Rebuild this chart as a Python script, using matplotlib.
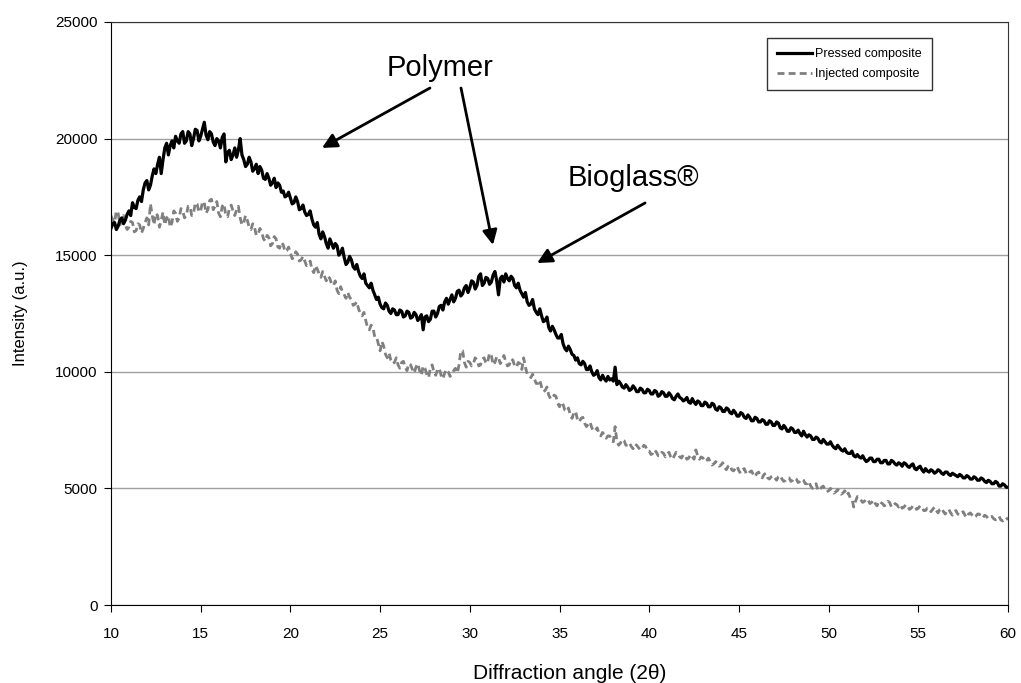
import numpy as np
import matplotlib
matplotlib.use('Agg')
import matplotlib.pyplot as plt

plt.rcParams['font.family'] = ['Liberation Sans', 'DejaVu Sans']

# 2-theta scan, 10-60 deg, 0.1 deg step
angle = np.round(np.arange(10.0, 60.0001, 0.1), 1)

pressed = [
    16150, 16350, 16400, 16100, 16250, 16500, 16600, 16350, 16500, 16750,
    16900, 16700, 17250, 17050, 17000, 17350, 17500, 17300, 17800, 18100,
    18200, 17800, 18000, 18400, 18700, 18500, 18900, 19200, 18500, 19100,
    19600, 19800, 19300, 19700, 19900, 19600, 20100, 19900, 19800, 20200,
    20300, 19800, 19900, 20300, 20200, 19700, 20000, 20400, 20350, 19900,
    20100, 20400, 20700, 20150, 19950, 20300, 20200, 19850, 19700, 20000,
    19900, 19600, 20050, 20200, 19000, 19400, 19500, 19100, 19300, 19600,
    19200, 19500, 20000, 19300, 19100, 18800, 18900, 19200, 19000, 18600,
    18700, 18900, 18500, 18800, 18650, 18300, 18250, 18500, 18300, 18000,
    18100, 18300, 17900, 18100, 18000, 17700, 17750, 17500, 17550, 17700,
    17450, 17200, 17250, 17500, 17300, 16950, 17000, 17150, 16850, 16700,
    16750, 16900, 16550, 16300, 16200, 16400, 15900, 15700, 16000, 15800,
    15500, 15300, 15700, 15500, 15300, 15500, 15400, 15000, 15100, 15300,
    14900, 14600, 14700, 14950, 14800, 14500, 14400, 14600, 14300, 14100,
    14000, 14200, 13800, 13700, 13600, 13800, 13500, 13300, 13100, 13200,
    12900, 12750, 12700, 12950, 12850, 12600, 12500, 12700, 12650, 12450,
    12450, 12650, 12600, 12350, 12400, 12600, 12550, 12300, 12350, 12550,
    12450, 12200, 12300, 12450, 11800, 12350, 12400, 12150, 12250, 12600,
    12600, 12350, 12500, 12800, 12850, 12650, 13000, 13150, 12900, 13100,
    13300, 13000, 13150, 13450, 13500, 13250, 13350, 13600, 13700, 13400,
    13600, 13900, 13850, 13550, 13700, 14100, 14200, 13700, 13800, 14050,
    14000, 13750, 13850, 14150, 14300, 13900, 13300, 14000, 14100, 13850,
    14200, 14000, 13900, 14100, 14000, 13700, 13600, 13800, 13500, 13350,
    13200, 13400, 13000, 12850, 12900, 13100, 12700, 12550, 12450, 12700,
    12400, 12150, 12200, 12350, 11900, 11750, 11950, 11800, 11600, 11450,
    11450, 11600, 11200, 11000, 10900, 11100, 10950, 10750, 10700, 10500,
    10600, 10350, 10300, 10450, 10350, 10100, 10100, 10250, 10000, 9850,
    9900, 10050, 9750, 9650, 9850, 9700, 9600, 9800, 9650, 9700,
    9600, 10200, 9450, 9600, 9500, 9350, 9300, 9450, 9350, 9200,
    9250, 9400, 9300, 9150, 9150, 9300, 9250, 9100, 9100, 9250,
    9200, 9050, 9050, 9200, 9150, 8950, 9000, 9150, 9100, 8950,
    8950, 9100, 9000, 8850, 8800, 8950, 9050, 8900, 8850, 8750,
    8800, 8900, 8700, 8650, 8850, 8700, 8600, 8750, 8700, 8550,
    8550, 8700, 8650, 8500, 8500, 8650, 8600, 8400, 8350, 8500,
    8450, 8300, 8300, 8450, 8400, 8250, 8200, 8350, 8250, 8100,
    8100, 8250, 8200, 8050, 8000, 8150, 8050, 7900, 7900, 8050,
    8000, 7850, 7850, 7950, 7900, 7750, 7750, 7900, 7850, 7700,
    7700, 7850, 7800, 7600, 7550, 7700, 7600, 7450, 7450, 7600,
    7550, 7400, 7400, 7500, 7350, 7250, 7450, 7300, 7200, 7300,
    7250, 7100, 7100, 7200, 7150, 7000, 6950, 7100, 7000, 6900,
    6900, 7000, 6850, 6750, 6700, 6850, 6750, 6650, 6600, 6700,
    6550, 6500, 6500, 6600, 6400, 6350, 6450, 6350, 6300, 6400,
    6250, 6150, 6200, 6300, 6300, 6150, 6150, 6250, 6250, 6100,
    6100, 6200, 6200, 6050, 6050, 6200, 6150, 6050, 6000, 6100,
    6050, 5950, 6100, 6050, 5950, 5900, 6000, 6050, 5850, 5800,
    5900, 5950, 5800, 5700, 5850, 5750, 5700, 5800, 5750, 5650,
    5700, 5800, 5750, 5650, 5600, 5700, 5700, 5600, 5550, 5650,
    5600, 5550, 5500, 5600, 5550, 5450, 5450, 5550, 5500, 5400,
    5400, 5500, 5450, 5350, 5350, 5450, 5400, 5300, 5250, 5350,
    5300, 5200, 5200, 5300, 5250, 5100, 5100, 5200, 5150, 5050,
    5050,
]

injected = [
    16700, 16500, 16400, 16900, 16800, 16300, 16500, 16700, 16300, 16100,
    16200, 16450, 16400, 16000, 16050, 16350, 16300, 15950, 16150, 16400,
    16600, 16300, 17200, 16700, 16300, 16800, 16700, 16200, 16500, 16850,
    16300, 16600, 16700, 16200, 16400, 16900, 16800, 16450, 16600, 17000,
    16900, 16600, 16700, 17100, 17100, 16700, 16800, 17250, 17200, 16850,
    16900, 17300, 17250, 16800, 16950, 17350, 17400, 16950, 17100, 17300,
    16800, 16650, 17100, 17200, 16700, 16650, 17000, 17150, 16900, 16700,
    16950, 17100, 16600, 16300, 16400, 16700, 16500, 16200, 16100, 16350,
    16200, 15850, 15900, 16150, 16000, 15700, 15600, 15850, 15750, 15400,
    15500, 15800, 15700, 15350, 15300, 15550, 15450, 15150, 15200, 15350,
    15100, 14850, 14900, 15150, 15050, 14750, 14800, 14950, 14750, 14550,
    14600, 14750, 14400, 14250, 14550, 14400, 14200, 14050, 14300, 14100,
    13900, 14100, 14000, 13750, 13700, 13900, 13500, 13350, 13650, 13450,
    13300, 13150, 13400, 13200, 13100, 12850, 12900, 13000, 12700, 12500,
    12400, 12550, 12200, 11900, 11800, 12000, 11900, 11500, 11500, 11200,
    10900, 11300, 11100, 10750, 10600, 10800, 10500, 10350, 10400, 10600,
    10300, 10150, 10400, 10450, 10200, 10050, 10350, 10300, 10100, 9950,
    10200, 10350, 10050, 9850, 10250, 10150, 9900, 9750, 10150, 10300,
    10000, 9850, 10100, 10150, 9850, 9700, 9950, 10100, 10000, 9800,
    9900, 10050, 10150, 9950, 10300, 10900, 10900, 10400, 10200, 10450,
    10400, 10250, 10350, 10600, 10500, 10250, 10300, 10550, 10600, 10350,
    10450, 10800, 10700, 10300, 10400, 10650, 10600, 10350, 10500, 10700,
    10450, 10250, 10300, 10550, 10500, 10250, 10200, 10400, 10350, 10100,
    10600, 10200, 9900, 9850, 9750, 9900, 9700, 9500, 9500, 9650,
    9350, 9150, 9200, 9350, 9000, 8850, 8850, 9000, 8950, 8650,
    8500, 8700, 8600, 8350, 8300, 8450, 8150, 8000, 8250, 8300,
    7950, 7850, 8000, 8050, 7800, 7650, 7750, 7850, 7600, 7450,
    7500, 7600, 7350, 7250, 7400, 7300, 7150, 7250, 7250, 7050,
    7000, 7650, 7000, 6850, 6950, 7100, 7050, 6850, 6850, 6950,
    6800, 6700, 6900, 6850, 6750, 6650, 6700, 6850, 6800, 6600,
    6600, 6450, 6500, 6650, 6550, 6400, 6400, 6550, 6500, 6350,
    6450, 6550, 6350, 6250, 6400, 6550, 6500, 6350, 6300, 6450,
    6400, 6250, 6300, 6450, 6350, 6250, 6650, 6400, 6250, 6350,
    6300, 6150, 6200, 6300, 6150, 6000, 6050, 6150, 6100, 5950,
    6000, 6100, 5900, 5800, 5950, 6000, 5800, 5750, 5850, 5950,
    5750, 5650, 5800, 5850, 5650, 5600, 5700, 5750, 5600, 5500,
    5650, 5700, 5500, 5450, 5600, 5650, 5450, 5400, 5500, 5550,
    5450, 5350, 5500, 5550, 5400, 5300, 5350, 5450, 5450, 5300,
    5350, 5450, 5400, 5250, 5300, 5400, 5350, 5200, 5200, 5300,
    5100, 5000, 5150, 5200, 4950, 4900, 5050, 5100, 4950, 4850,
    4900, 5000, 4950, 4800, 4850, 4950, 4900, 4750, 4800, 4900,
    4700, 4800, 4600, 4550, 4200, 4450, 4650, 4600, 4500, 4400,
    4450, 4550, 4500, 4350, 4400, 4500, 4350, 4250, 4450, 4400,
    4350, 4250, 4300, 4450, 4400, 4200, 4250, 4350, 4300, 4200,
    4300, 4150, 4200, 4300, 4250, 4100, 4150, 4250, 4250, 4100,
    4150, 4250, 4200, 4050, 4050, 4150, 4150, 4000, 4100, 4200,
    4050, 3950, 4100, 4150, 4000, 3900, 4050, 4100, 3950, 3850,
    4000, 4050, 3900, 3850, 3950, 4000, 3850, 3750, 3900, 3950,
    3850, 3750, 3800, 3900, 3900, 3750, 3750, 3850, 3800, 3700,
    3750, 3800, 3700, 3650, 3750, 3800, 3650, 3600, 3700, 3750,
    3650,
]

fig = plt.figure(figsize=(10.21, 6.83), dpi=100)
ax = fig.add_axes([0.1087, 0.1142, 0.8786, 0.8536])

ax.plot(angle, injected, color='#808080', lw=2, ls=(0, (2.5, 1.5)), label='Injected composite')
ax.plot(angle, pressed, color='black', lw=2.3, label='Pressed composite')

ax.set_xlim(10, 60)
ax.set_ylim(0, 25000)
ax.set_xticks(range(10, 61, 5))
ax.set_yticks(range(0, 25001, 5000))
ax.yaxis.grid(True, color='#a0a0a0', lw=1)
ax.set_axisbelow(True)
ax.tick_params(direction='out', length=5, labelsize=11)
ax.tick_params(axis='x', pad=10.5)
ax.tick_params(axis='y', pad=4.5)
for s in ax.spines.values():
    s.set_color('#333333')
ax.spines['left'].set_color('black')
ax.spines['bottom'].set_color('black')

ax.set_xlabel('Diffraction angle (2θ)', fontsize=15)
ax.xaxis.set_label_coords(0.5117, -0.102)
ax.set_ylabel('Intensity (a.u.)', fontsize=12)
ax.yaxis.set_label_coords(-0.093, 0.5)

# peak annotations
arrow = dict(arrowstyle='-|>', color='black', lw=2, mutation_scale=22, shrinkA=0, shrinkB=0)
ax.text(28.34, 22680, 'Polymer', fontsize=21, ha='center', va='baseline')
ax.annotate('', xy=(21.76, 19600), xytext=(27.78, 22170), arrowprops=arrow)
ax.annotate('', xy=(31.29, 15440), xytext=(29.51, 22170), arrowprops=arrow)
ax.text(39.1, 18310, 'Bioglass®', fontsize=21, ha='center', va='center')
ax.annotate('', xy=(33.75, 14665), xytext=(39.77, 17240), arrowprops=arrow)

handles, labels = ax.get_legend_handles_labels()
leg = ax.legend(handles[::-1], labels[::-1], loc='upper right', bbox_to_anchor=(0.9153, 0.9726),
                fontsize=9, frameon=True, fancybox=False, handlelength=2.8,
                borderpad=0.8, labelspacing=0.68, handletextpad=0.3, borderaxespad=0)
leg.get_frame().set_edgecolor('black')
leg.get_frame().set_linewidth(1)

fig.savefig('out.png', dpi=100)
